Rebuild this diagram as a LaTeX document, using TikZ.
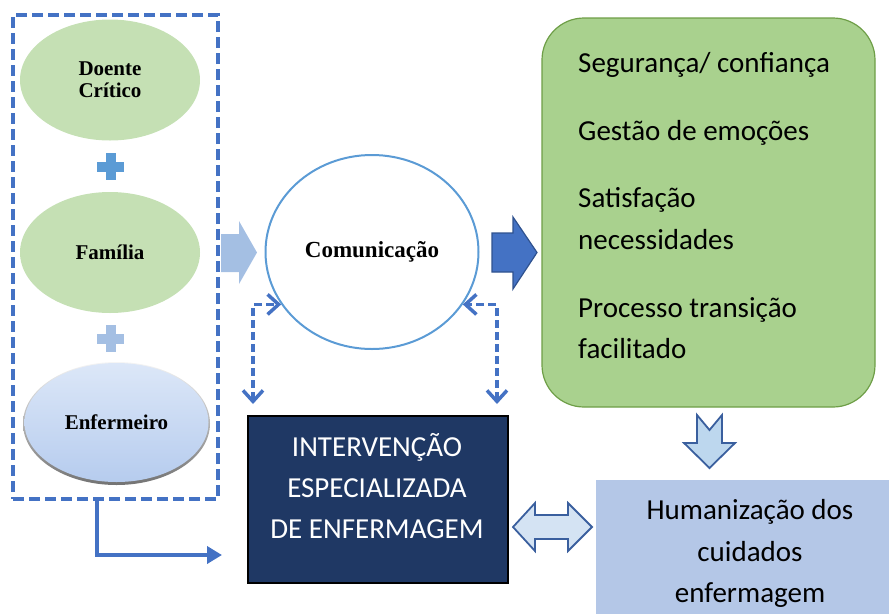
\documentclass[tikz,border=0pt]{standalone}
\usepackage{fontspec}
\setmainfont{Liberation Serif}
\newfontfamily\calib{Carlito}
\usetikzlibrary{shapes.geometric,arrows.meta,calc}
\definecolor{ellgreen}{HTML}{C5E0B4}
\definecolor{dblue}{HTML}{4472C4}
\definecolor{cblue}{HTML}{5B9BD5}
\definecolor{plusone}{HTML}{5B9BD5}
\definecolor{plustwo}{HTML}{A4BFE3}
\definecolor{lightarrow}{HTML}{A4BFE3}
\definecolor{boxgreen}{HTML}{A9D18E}
\definecolor{boxgreenedge}{HTML}{6E9E47}
\definecolor{navy}{HTML}{1F3864}
\definecolor{hblue}{HTML}{B4C7E7}
\definecolor{arrowfill}{HTML}{BDD7EE}
\definecolor{dblfill}{HTML}{D4E3F3}
\definecolor{arrowedge}{HTML}{3A5F9E}
\definecolor{darkarrowedge}{HTML}{2F528F}
\definecolor{enftop}{HTML}{DCE7F8}
\definecolor{enfmid}{HTML}{C2D5F1}
\definecolor{enfbot}{HTML}{B6CCEE}
\begin{document}
\begin{tikzpicture}[x=1pt,y=-1pt,
  lbl/.style={font=\bfseries\fontsize{21}{22}\selectfont, align=center},
  greenell/.style={ellipse, fill=ellgreen, minimum width=180pt, minimum height=121pt, inner sep=0pt, lbl},
  ctext/.style={font=\calib\fontsize{29}{34}\selectfont, inner sep=0pt},
  dashlink/.style={dblue, line width=3.5pt, dash pattern=on 8pt off 4pt,
     {Straight Barb[length=11pt,width=20pt,line width=3.5pt]}-{Straight Barb[length=11pt,width=20pt,line width=3.5pt]}},
  blockarrow/.style={line width=1.8pt, line join=miter}
]
\useasboundingbox (0,0) rectangle (889,614);

% left group
\node[draw=dblue, line width=4pt, dash pattern=on 11pt off 5pt, minimum width=205pt, minimum height=484pt, inner sep=0pt] (grp) at (115.5,257) {};
\node[greenell] (doente) at (110,80) {Doente\\Crítico};
\fill[plusone] (97,162) rectangle (124,171.5);
\fill[plusone] (106,153) rectangle (115.5,180);
\node[greenell] (familia) at (110,252.5) {Família};
\fill[plustwo] (97,334) rectangle (124,343.5);
\fill[plustwo] (106,325) rectangle (115.5,352);
\shade[top color=black!4, bottom color=black!55] (116.5,423.5) ellipse [x radius=93.5pt, y radius=61.5pt];
\node[ellipse, minimum width=184pt, minimum height=119pt, inner sep=0pt, top color=enftop, middle color=enfmid, bottom color=enfbot, lbl] (enf) at (116.5,422.5) {Enfermeiro};

% elbow arrow from group
\coordinate (gout) at (97,499);
\coordinate (gend) at (222,555);
\draw[dblue, line width=4pt, -{Triangle[length=15pt,width=17pt]}] (gout) |- (gend);

% communication
\node[ellipse, draw=cblue, line width=2pt, minimum width=213pt, minimum height=194pt, inner sep=0pt, font=\bfseries\fontsize{23}{25}\selectfont] (comm) at (372,252) {Comunicação};

% light arrow group -> comm
\fill[lightarrow] (221,234) -- (239,234) -- (239,221) -- (257,252.5) -- (239,284) -- (239,272) -- (221,272) -- cycle;

% dark arrow comm -> results
\filldraw[fill=dblue, draw=darkarrowedge, line width=1.2pt] (492,233) -- (513,233) -- (513,217) -- (537,252.5) -- (513,289) -- (513,272) -- (492,272) -- cycle;

% dashed double arrows
\coordinate (ld) at (253,404);
\coordinate (rd) at (497,404);
\draw[dashlink] (ld) |- (comm.210);
\draw[dashlink] (rd) |- (comm.330);

% results box
\node[draw=boxgreenedge, line width=1.2pt, fill=boxgreen, rounded corners=42pt, minimum width=333pt, minimum height=389pt, inner sep=0pt] (res) at (708.5,212.5) {};
\node[ctext, anchor=base west] (r1) at (578,72.7) {Segurança/ confiança};
\node[ctext, anchor=base west] (r2) at (578,140) {Gestão de emoções};
\node[ctext, anchor=base west] (r3) at (578,207) {Satisfação};
\node[ctext, anchor=base west] (r4) at (578,249) {necessidades};
\node[ctext, anchor=base west] (r5) at (578,317.5) {Processo transição};
\node[ctext, anchor=base west] (r6) at (578,358) {facilitado};

% intervention box
\node[draw=black, line width=1.5pt, fill=navy, minimum width=260pt, minimum height=167pt, inner sep=0pt] (interv) at (378,499.5) {};
\node[ctext, text=white, anchor=base] (i1) at (377,456.7) {INTERVENÇÃO};
\node[ctext, text=white, anchor=base] (i2) at (377,497) {ESPECIALIZADA};
\node[ctext, text=white, anchor=base] (i3) at (377,538) {DE ENFERMAGEM};

% humanization box
\node[fill=hblue, minimum width=293pt, minimum height=134pt, inner sep=0pt] (hum) at (742.5,547) {};
\node[ctext, anchor=base] (h1) at (750,519.5) {Humanização dos};
\node[ctext, anchor=base] (h2) at (750,561) {cuidados};
\node[ctext, anchor=base] (h3) at (750,602) {enfermagem};

% down arrow results -> humanization
\filldraw[fill=arrowfill, draw=arrowedge, blockarrow] (697,415) -- (709.5,430) -- (722,415) -- (722,443) -- (735,443) -- (709.5,468) -- (684,443) -- (697,443) -- cycle;

% double arrow intervention <-> humanization
\filldraw[fill=dblfill, draw=arrowedge, blockarrow] (513,527) -- (535,503) -- (535,515) -- (568,515) -- (568,503) -- (592,527) -- (568,551) -- (568,539) -- (535,539) -- (535,551) -- cycle;
\end{tikzpicture}
\end{document}
